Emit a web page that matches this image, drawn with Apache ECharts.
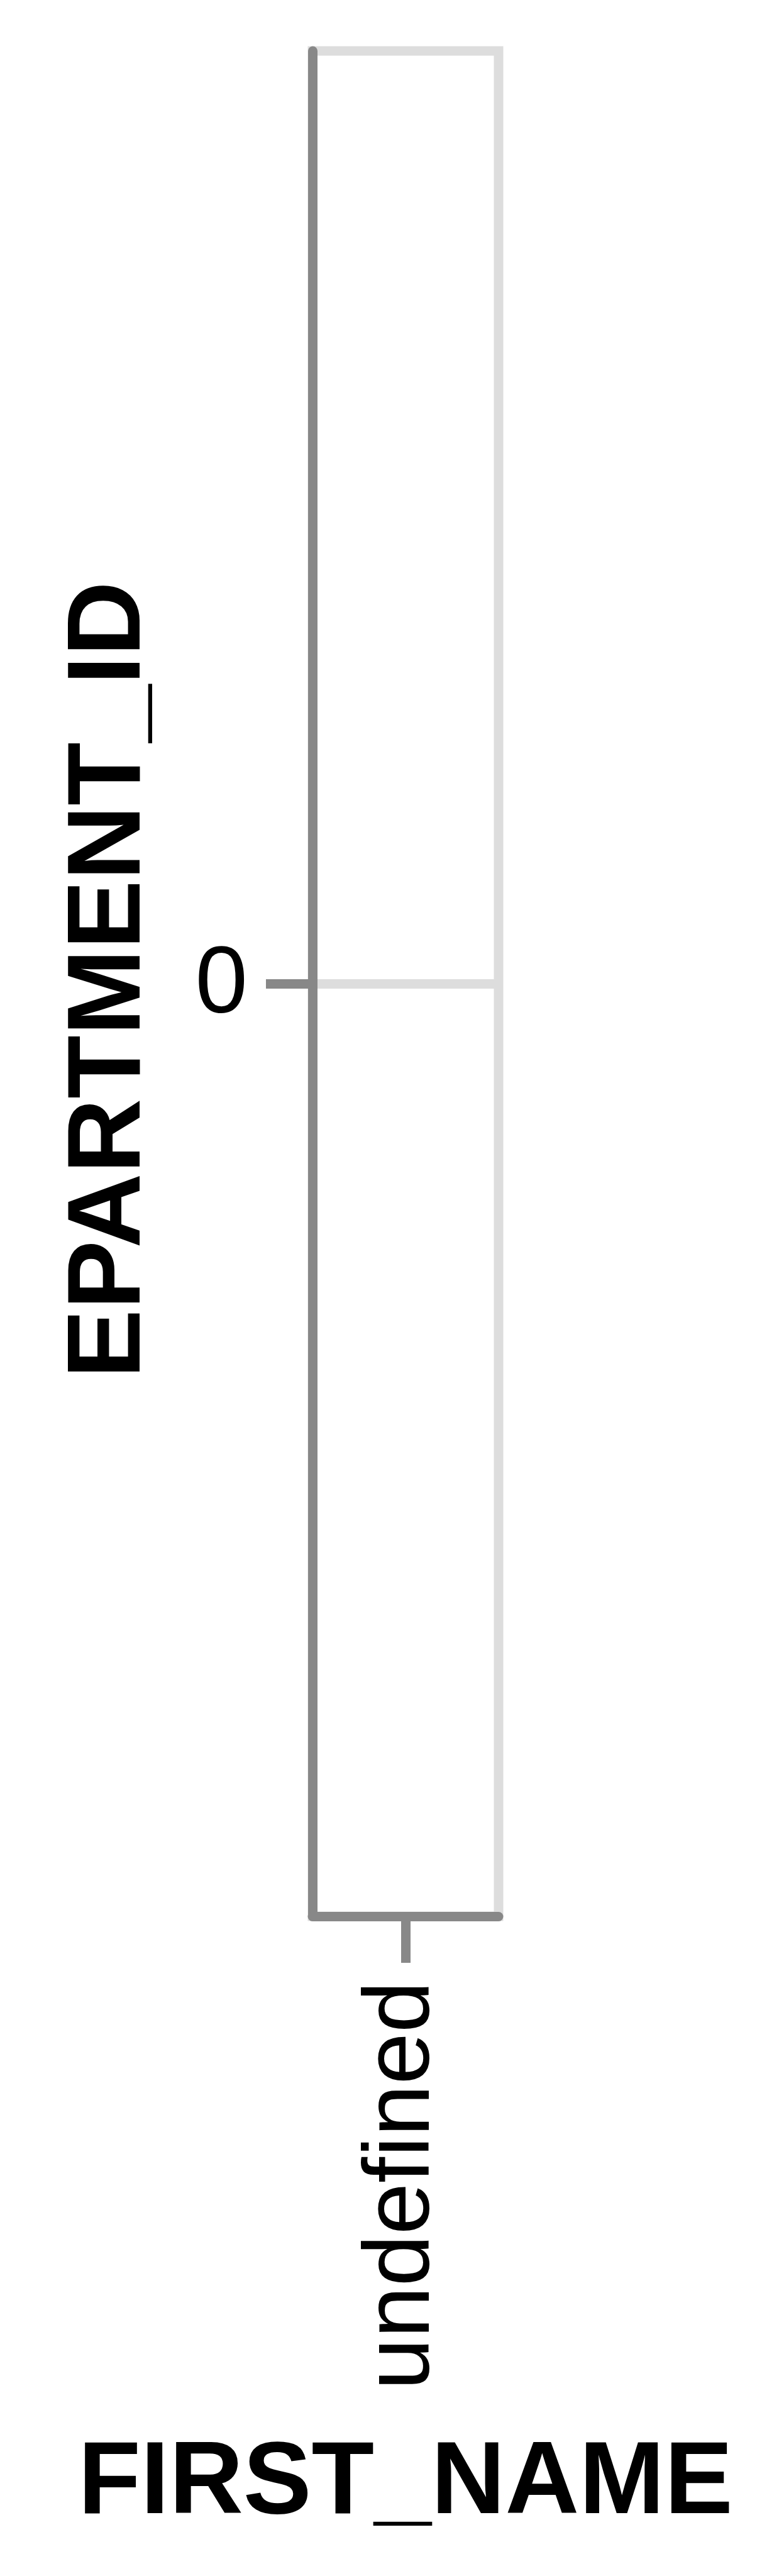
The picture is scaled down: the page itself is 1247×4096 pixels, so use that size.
<!DOCTYPE html>
<html>
<head>
<meta charset="utf-8">
<script src="https://cdn.jsdelivr.net/npm/echarts@6/dist/echarts.min.js"></script>
<style>
  html, body { margin: 0; padding: 0; background: #fff; }
  #chart { width: 1247px; height: 4096px; }
</style>
</head>
<body>
<div id="chart"></div>
<script>
const categories = ['undefined'];
const values = [0];
const yTickValues = [0];
const xTitle = 'FIRST_NAME';
const yTitle = 'EPARTMENT_ID';

const FONT = "'Liberation Sans', Arial, Helvetica, sans-serif";
const AXIS = '#888888';
const GRID = '#dddddd';
const LW = 15;

const chart = echarts.init(document.getElementById('chart'), null, { renderer: 'canvas' });
chart.setOption({
  animation: false,
  backgroundColor: '#ffffff',
  grid: {
    left: 497, top: 81, width: 296, height: 2966,
    show: true, borderColor: GRID, borderWidth: LW, backgroundColor: 'transparent',
    containLabel: false
  },
  xAxis: {
    type: 'category',
    data: categories,
    boundaryGap: true,
    name: xTitle,
    nameLocation: 'middle',
    nameGap: 823,
    nameTextStyle: { fontFamily: FONT, fontSize: 163, fontWeight: 'bold', color: '#000' },
    axisLine: { show: true, onZero: false, lineStyle: { color: AXIS, width: LW } },
    axisTick: { show: true, alignWithLabel: true, length: 74, lineStyle: { color: AXIS, width: LW } },
    axisLabel: { show: true, rotate: 90, margin: 103, verticalAlign: 'bottom', lineHeight: 7.5, fontFamily: FONT, fontSize: 148, color: '#000' },
    splitLine: { show: false }
  },
  yAxis: {
    type: 'value',
    min: -1, max: 1, interval: 1,
    name: yTitle,
    nameLocation: 'middle',
    nameRotate: 90,
    nameGap: 238,
    nameTextStyle: { fontFamily: FONT, fontSize: 164.5, fontWeight: 'bold', color: '#000', padding: [0, 0, 0, 12], backgroundColor: 'transparent' },
    axisLine: { show: true, onZero: false, lineStyle: { color: AXIS, width: LW } },
    axisTick: { show: true, length: 74, customValues: yTickValues, lineStyle: { color: AXIS, width: LW } },
    axisLabel: { show: true, margin: 103, verticalAlign: 'top', lineHeight: 9, customValues: yTickValues, fontFamily: FONT, fontSize: 150, color: '#000' },
    splitLine: { show: true, lineStyle: { color: GRID, width: LW } }
  },
  series: [{
    type: 'bar',
    data: values,
    itemStyle: { color: '#4c78a8' }
  }]
});
</script>
</body>
</html>
